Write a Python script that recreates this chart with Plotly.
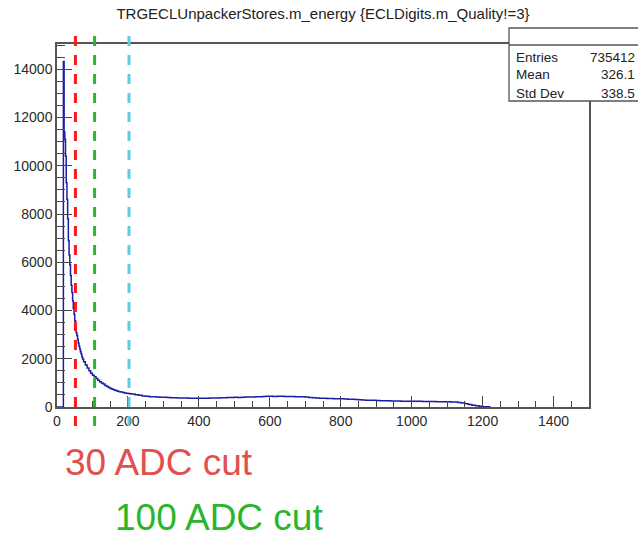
import plotly.graph_objects as go

# Histogram of TRGECLUnpackerStores.m_energy: bin left edges and counts
bin_edges = [
    0, 18, 20, 22, 24, 26, 28, 30, 32, 34, 36, 38, 40, 42, 44, 46, 48, 50,
    52, 54, 56, 58, 60, 62, 64, 66, 68, 70, 72, 75, 80, 85, 90, 95, 100,
    105, 110, 115, 120, 125, 130, 135, 140, 145, 150, 155, 160, 165, 170,
    175, 180, 185, 190, 195, 200, 205, 210, 220, 230, 240, 250, 260, 270,
    280, 290, 300, 310, 320, 330, 340, 350, 360, 370, 380, 390, 400, 410,
    420, 430, 440, 450, 460, 470, 480, 490, 500, 510, 520, 530, 540, 550,
    560, 570, 580, 590, 600, 610, 620, 630, 640, 650, 660, 670, 680, 690,
    700, 710, 720, 730, 740, 750, 760, 770, 780, 790, 800, 810, 820, 830,
    840, 850, 860, 870, 880, 890, 900, 910, 920, 930, 940, 950, 960, 970,
    980, 990, 1000, 1010, 1020, 1030, 1040, 1050, 1060, 1070, 1080, 1090,
    1100, 1110, 1120, 1130, 1140, 1150, 1160, 1170, 1180, 1190, 1200, 1210,
    1220,
]
bin_counts = [
    0, 14320, 11400, 11100, 10400, 9300, 8600, 7800, 6900, 6300, 5900, 5450,
    5050, 4750, 4400, 4080, 3850, 3580, 3250, 3080, 2960, 2800, 2650, 2520,
    2400, 2290, 2200, 2080, 1990, 1880, 1740, 1620, 1500, 1400, 1320, 1250,
    1180, 1110, 1050, 990, 950, 890, 850, 810, 770, 740, 710, 680, 655, 635,
    620, 600, 585, 575, 560, 550, 535, 510, 485, 460, 445, 430, 420, 410,
    408, 400, 392, 385, 380, 372, 375, 368, 362, 366, 360, 362, 358, 366,
    370, 372, 378, 382, 388, 392, 395, 400, 398, 405, 410, 412, 418, 424,
    430, 438, 442, 446, 440, 448, 444, 438, 440, 435, 430, 425, 420, 410,
    398, 385, 372, 365, 360, 352, 350, 346, 342, 340, 332, 325, 318, 310,
    300, 292, 285, 280, 275, 268, 262, 258, 255, 250, 248, 245, 242, 240,
    240, 238, 236, 235, 232, 230, 228, 225, 222, 220, 218, 215, 212, 205,
    190, 165, 135, 105, 75, 48, 28, 14, 6, 0,
]

# Statistics box
stat_names = ["Entries", "Mean", "Std Dev"]
stat_values = ["735412", "326.1", "338.5"]

# Cut markers (axis units) and labels
cut_positions = [52, 106, 203]
cut_colors = ["#ff1a1a", "#22bb22", "#5ccbe6"]
cut_labels = ["30 ADC cut", "100 ADC cut"]
cut_label_colors = ["#e24f4f", "#2bb52b"]

x_ticks = [0, 200, 400, 600, 800, 1000, 1200, 1400]
y_ticks = [0, 2000, 4000, 6000, 8000, 10000, 12000, 14000]

W, H = 638, 537
ML, MR, MT, MB = 57, 49, 44, 130
PW, PH = W - ML - MR, H - MT - MB


def px(xp):
    return (xp - ML) / PW


def py(yp):
    return (H - MB - yp) / PH


fig = go.Figure()
fig.add_trace(go.Scatter(
    x=bin_edges, y=bin_counts, mode="lines",
    line=dict(color="#1c1ca6", width=1.5, shape="hv"),
    hoverinfo="skip", showlegend=False,
))

shapes = []
for xc, col in zip(cut_positions, cut_colors):
    shapes.append(dict(
        type="line", xref="x", yref="paper", x0=xc, x1=xc,
        y0=py(426), y1=py(33), layer="above",
        line=dict(color=col, width=3, dash="10px,9px"),
    ))

# statistics box
shapes.append(dict(
    type="rect", xref="paper", yref="paper",
    x0=px(509), x1=px(660), y0=py(101), y1=py(28),
    fillcolor="white", line=dict(color="#555555", width=1.3), layer="above",
))
shapes.append(dict(
    type="line", xref="paper", yref="paper",
    x0=px(509), x1=px(660), y0=py(45), y1=py(45),
    line=dict(color="#555555", width=1.3), layer="above",
))

annotations = []
for i, (name, val) in enumerate(zip(stat_names, stat_values)):
    yy = py(57 + 18 * i)
    annotations.append(dict(
        xref="paper", yref="paper", x=px(514), y=yy, text=name,
        showarrow=False, xanchor="left", yanchor="middle",
        font=dict(size=13.5, color="#222222"),
    ))
    annotations.append(dict(
        xref="paper", yref="paper", x=px(637), y=yy, text=val,
        showarrow=False, xanchor="right", yanchor="middle",
        font=dict(size=13.5, color="#222222"),
    ))

label_pos = [(63, 462), (113, 517)]
for text, col, (lx, ly) in zip(cut_labels, cut_label_colors, label_pos):
    annotations.append(dict(
        xref="paper", yref="paper", x=px(lx), y=py(ly), text=text,
        showarrow=False, xanchor="left", yanchor="middle",
        font=dict(size=37, color=col),
    ))

axis_common = dict(
    showline=True, linecolor="#555555", linewidth=1.5, mirror=True,
    showgrid=False, zeroline=False, ticks="inside", tickcolor="#444444",
    tickwidth=1.2, tickfont=dict(size=14, color="#2a2a2a"),
)

fig.update_layout(
    width=W, height=H,
    margin=dict(l=ML, r=MR, t=MT, b=MB, pad=0),
    paper_bgcolor="white", plot_bgcolor="white",
    font=dict(family="Liberation Sans, Arial, sans-serif"),
    title=dict(
        text="TRGECLUnpackerStores.m_energy {ECLDigits.m_Quality!=3}",
        x=0.5, xref="paper", y=1 - 14 / H, yref="container",
        xanchor="center", yanchor="middle",
        font=dict(size=15, color="#222222"),
    ),
    xaxis=dict(
        range=[0, 1500], tickvals=x_ticks,
        ticktext=[str(v) for v in x_ticks], ticklen=11,
        minor=dict(ticks="inside", dtick=50, tick0=0, ticklen=6,
                   tickcolor="#444444", tickwidth=1.2),
        **axis_common,
    ),
    yaxis=dict(
        range=[0, 15050], tickvals=y_ticks,
        ticktext=[str(v) for v in y_ticks], ticklen=15,
        minor=dict(ticks="inside", dtick=500, tick0=0, ticklen=8,
                   tickcolor="#444444", tickwidth=1.2),
        **axis_common,
    ),
    shapes=shapes,
    annotations=annotations,
)

fig.write_html("out.html")
